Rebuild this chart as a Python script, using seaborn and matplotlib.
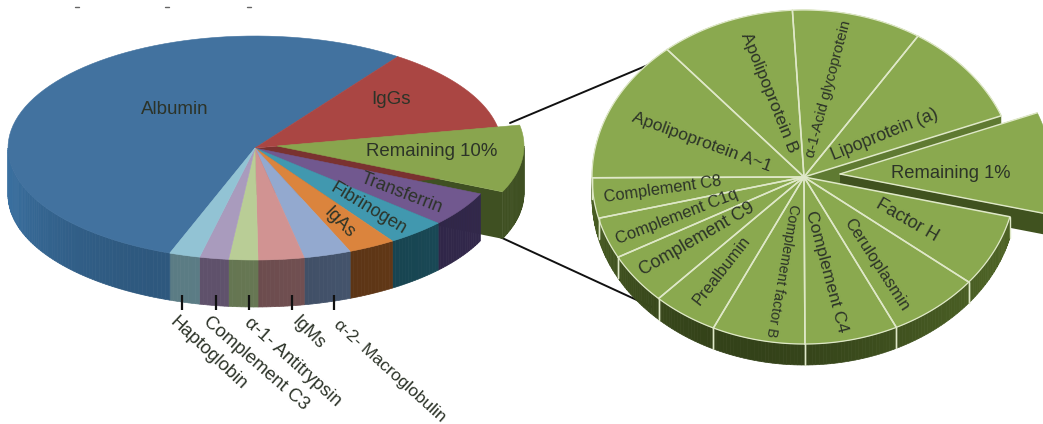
import numpy as np
import matplotlib
matplotlib.use("Agg")
import matplotlib.pyplot as plt
import seaborn as sns

sns.set_theme(style="white")
plt.rcParams['font.family'] = ['Liberation Sans', 'DejaVu Sans']

# ---- data: percentage of total plasma protein, clockwise ----
main_names = ["IgGs", "Remaining 10%", "Transferrin", "Fibrinogen", "IgAs",
              "α-2- Macroglobulin", "IgMs", "α-1- Antitrypsin", "Complement C3", "Haptoglobin", "Albumin"]
main_values = [12.2, 9.7, 5.0, 3.9, 3.1, 3.1, 3.0, 1.9, 1.9, 2.0, 54.2]
main_top = ["#aa4643", "#89a54e", "#71588f", "#4198af", "#db843d",
            "#93a9cf", "#d19392", "#b9cd96", "#a99bbd", "#92c3d4", "#42729f"]
main_side = ["#7a3230", "#3f5022", "#2c2342", "#17424e", "#5e3616",
             "#46566f", "#7a5658", "#74875e", "#6e5e7c", "#6a909a", "#356692"]
detail_names = ["Lipoprotein (a)", "Remaining 1%", "Factor H", "Ceruloplasmin", "Complement C4",
                "Complement factor B", "Prealbumin", "Complement C9", "Complement C1q",
                "Complement C8", "Apolipoprotein A~1", "Apolipoprotein B", "α-1-Acid glycoprotein"]
detail_values = [1.00, 0.98, 0.70, 0.70, 0.71, 0.71, 0.50, 0.50, 0.40, 0.39, 1.39, 1.03, 0.99]

# ---- layout (pixels) ----
M = dict(cx=255, cy=148, rx=247, ry=112, depth=47, start=54.7)
D = dict(cx=804, cy=177, rx=212, ry=167, depth=21, start=57.5)
M_OFFSET = (22, -2)
D_OFFSET = (36, -3)
M_STYLE = {"Albumin": (175, 110, 0, 13.5), "IgGs": (391, 100, 0, 13.5), "Remaining 10%": (432, 152, 0, 13.4),
           "Transferrin": (402, 193, -21, 13), "Fibrinogen": (368, 209, -31, 13), "IgAs": (339, 223, -45, 13),
           "Haptoglobin": (208, 353, -43, 13.3), "Complement C3": (256, 363, -41, 13.3),
           "α-1- Antitrypsin": (293, 362, -42, 13.3), "IgMs": (308, 333, -45, 13),
           "α-2- Macroglobulin": (390, 371, -42, 12.5)}
D_STYLE = {"Lipoprotein (a)": (885, 135, 22, 12.7), "α-1-Acid glycoprotein": (829, 89, 75, 10.8),
           "Apolipoprotein B": (769, 93, -68, 12.6), "Apolipoprotein A~1": (702, 142, -20, 12.6),
           "Complement C8": (663, 189, 8, 11.8), "Complement C1q": (677, 217, 21, 12.0),
           "Complement C9": (697, 239, 30, 13), "Prealbumin": (722, 270, 52, 11.8),
           "Complement factor B": (782, 271, -100, 10.3), "Complement C4": (826, 272, -75, 12.5),
           "Ceruloplasmin": (877, 265, -57, 12), "Factor H": (907, 220, -30, 13),
           "Remaining 1%": (951, 173, 0, 13.2)}
TICK_X = {"Haptoglobin": 182, "Complement C3": 216, "α-1- Antitrypsin": 249, "IgMs": 292,
          "α-2- Macroglobulin": 334}
TEXT = "#2c3328"
SEAM = "#dfe8c8"

fig = plt.figure(figsize=(10.43, 4.24), dpi=100)
ax = fig.add_axes([0, 0, 1, 1])
ax.set_xlim(0, 1043)
ax.set_ylim(424, 0)
ax.axis("off")


def spans(values, start):
    deg = np.array(values, float) / np.sum(values) * 360
    hi = start - np.concatenate([[0], np.cumsum(deg)[:-1]])
    return hi, hi - deg


def rim(g, t, off=(0, 0)):
    t = np.radians(t)
    return g["cx"] + off[0] + g["rx"] * np.cos(t), g["cy"] + off[1] - g["ry"] * np.sin(t)


def top(g, a, b, color, off=(0, 0), z=3):
    x, y = rim(g, np.linspace(a, b, 80), off)
    ax.fill(np.r_[g["cx"] + off[0], x], np.r_[g["cy"] + off[1], y], color=color, lw=0.4, zorder=z)


def side(g, a, b, color, off=(0, 0), z=2, gain=0.14):
    # only the part of the rim facing the viewer (-180 to 0 degrees)
    lo, hi = max(min(a, b), -180), min(max(a, b), 0)
    if hi <= lo:
        return
    edges = np.linspace(lo, hi, max(2, int(hi - lo) + 2))
    base = np.array(matplotlib.colors.to_rgb(color))
    for t0, t1 in zip(edges[:-1], edges[1:]):
        f = 1 + gain * np.cos(2 * np.radians((t0 + t1) / 2) + 0.6)
        x, y = rim(g, np.linspace(t0, t1, 4), off)
        ax.fill(np.r_[x, x[::-1]], np.r_[y, y[::-1] + g["depth"]],
                color=np.clip(base * f, 0, 1), lw=0.5, zorder=z)


def wall(g, t, color, off=(0, 0), z=2):
    x, y = rim(g, t, off)
    ox, oy = g["cx"] + off[0], g["cy"] + off[1]
    d = g["depth"]
    ax.fill([ox, x, x, ox], [oy, y, y + d, oy + d], color=color, lw=0, zorder=z)


# ---- main pie ----
hi, lo = spans(main_values, M["start"])
palette_top = sns.color_palette(main_top)
palette_side = sns.color_palette(main_side)
rem = main_names.index("Remaining 10%")
igg = main_names.index("IgGs")
for i, name in enumerate(main_names):
    if i != rem:
        side(M, hi[i], lo[i], palette_side[i], z=2)
side(M, hi[rem], lo[rem], palette_side[rem], off=M_OFFSET, z=1.5, gain=0)
wall(M, lo[rem], palette_side[rem], off=M_OFFSET, z=1.6)
wall(M, lo[igg], palette_side[igg], z=3.2)
for i, name in enumerate(main_names):
    if i == rem:
        top(M, hi[i], lo[i], palette_top[i], off=M_OFFSET, z=3.5)
    elif i == igg:
        top(M, hi[i], lo[i], palette_top[i], z=3.3)
    elif name == "Albumin":
        top(M, hi[i], lo[i], palette_top[i], z=3)
    else:
        top(M, hi[i], lo[i], palette_top[i], z=4)
for name in main_names:
    x, y, r, s = M_STYLE[name]
    ax.text(x, y, name, rotation=r, rotation_mode="anchor", ha="center", va="center",
            fontsize=s, color=TEXT, zorder=8)
    if name in TICK_X:
        ax.plot([TICK_X[name]] * 2, [295, 310], color="#111111", lw=1.6, solid_capstyle="butt", zorder=7)

# ---- connectors ----
ax.plot([510, 648], [123, 65], color="#111111", lw=1.4, zorder=1)
ax.plot([500, 652], [237, 307], color="#111111", lw=1.4, zorder=1)

# ---- cropped remnants along the top edge ----
for x0 in (75, 165, 247):
    ax.plot([x0, x0 + 4], [7, 7], color="#666666", lw=1.0, zorder=1)

# ---- detail pie ----
GREEN = "#8aa94f"
SIDE = "#40521f"
hi, lo = spans(detail_values, D["start"])
rem = detail_names.index("Remaining 1%")
others = [i for i in range(len(detail_names)) if i != rem]
for i in others:
    side(D, hi[i], lo[i], SIDE, z=3.55, gain=0.2)
wall(D, lo[0], "#5f7a32", z=3.4)
side(D, hi[rem], lo[rem], SIDE, off=D_OFFSET, z=3.5, gain=0)
wall(D, lo[rem], SIDE, off=D_OFFSET, z=3.5)
top(D, hi[rem], lo[rem], GREEN, off=D_OFFSET, z=3.6)
for i in others:
    top(D, hi[i], lo[i], GREEN, z=3.8)

# seams on the top face and down the rim
for i in others:
    for t in (hi[i], lo[i]):
        x, y = rim(D, t)
        ax.plot([D["cx"], x], [D["cy"], y], color=SEAM, lw=1.1, zorder=5)
        if -180 < t < 0:
            ax.plot([x, x], [y, y + D["depth"]], color=SEAM, lw=1.0, zorder=5)
    x, y = rim(D, np.linspace(hi[i], lo[i], 60))
    ax.plot(x, y, color=SEAM, lw=0.9, zorder=5)
for t in (hi[rem], lo[rem]):
    x, y = rim(D, t, D_OFFSET)
    ax.plot([D["cx"] + D_OFFSET[0], x], [D["cy"] + D_OFFSET[1], y], color=SEAM, lw=1.0, zorder=5)

for name in detail_names:
    x, y, r, s = D_STYLE[name]
    ax.text(x, y, name, rotation=r, rotation_mode="anchor", ha="center", va="center",
            fontsize=s, color=TEXT, zorder=8)

sns.despine(ax=ax, left=True, bottom=True)
fig.savefig("out.png", dpi=100, facecolor="white")
